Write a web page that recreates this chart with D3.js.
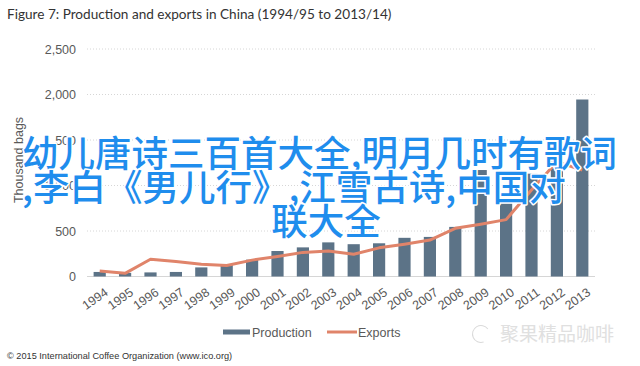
<!DOCTYPE html>
<html>
<head>
<meta charset="utf-8">
<script src="https://cdn.jsdelivr.net/npm/d3@7"></script>
<style>
  body { margin: 0; background: #fff; }
  svg { display: block; }
</style>
</head>
<body>
<div id="chart"></div>
<script>
const width = 640;
const height = 366;

const years = ["1994", "1995", "1996", "1997", "1998", "1999", "2000", "2001", "2002", "2003",
               "2004", "2005", "2006", "2007", "2008", "2009", "2010", "2011", "2012", "2013"];
const production = [50, 40, 45, 50, 100, 135, 185, 280, 320, 375, 355, 365, 425, 435, 545, 1170, 840, 1130, 1530, 1945];
const exportsData = [60, 35, 190, 165, 135, 120, 180, 220, 265, 280, 245, 315, 355, 400, 530, 575, 625, 950, 1260, 1170];
const yTicks = [0, 500, 1000, 1500, 2000, 2500];
const overlayLines = ["幼儿唐诗三百首大全,明月几时有歌词", ",李白《男儿行》,江雪古诗,中国对", "联大全"];

const barColor = "#5c7387";
const lineColor = "#e0846a";
const axisFont = "'Liberation Sans', Arial, sans-serif";

const svg = d3.select("#chart")
  .append("svg")
  .attr("width", width)
  .attr("height", height);

// scales
const x = d3.scaleBand().domain(years).range([87, 595]).paddingInner(0.52).paddingOuter(0.26);
const y = d3.scaleLinear().domain([0, 2500]).range([276.5, 49]);

// title
svg.append("text")
  .attr("x", 7)
  .attr("y", 19)
  .attr("font-family", "Lato, 'Open Sans', sans-serif")
  .attr("font-size", 13.6)
  .attr("fill", "#333")
  .text("Figure 7: Production and exports in China (1994/95 to 2013/14)");

// grid
svg.append("g")
  .selectAll("line")
  .data(yTicks)
  .join("line")
  .attr("x1", 87)
  .attr("x2", 595)
  .attr("y1", d => y(d))
  .attr("y2", d => y(d))
  .attr("stroke", "#d6d6d6")
  .attr("stroke-width", 1)
  .attr("stroke-dasharray", d => d === 0 ? null : "1,2");

// y axis labels
const yAxis = d3.axisLeft(y).tickValues(yTicks).tickSize(0).tickPadding(0).tickFormat(d3.format(","));
svg.append("g")
  .attr("transform", "translate(76,0)")
  .call(yAxis)
  .call(g => g.select(".domain").remove())
  .call(g => g.selectAll("text")
    .attr("font-family", axisFont)
    .attr("font-size", 12.5)
    .attr("fill", "#595959"));

svg.append("text")
  .attr("transform", "translate(23,160) rotate(-90)")
  .attr("text-anchor", "middle")
  .attr("font-family", axisFont)
  .attr("font-size", 12.5)
  .attr("fill", "#595959")
  .text("Thousand bags");

// x axis labels
const xAxis = d3.axisBottom(x).tickSize(0).tickPadding(0);
svg.append("g")
  .attr("transform", "translate(0,287)")
  .call(xAxis)
  .call(g => g.select(".domain").remove())
  .call(g => g.selectAll("text")
    .attr("font-family", axisFont)
    .attr("font-size", 12.5)
    .attr("fill", "#595959")
    .attr("text-anchor", "end")
    .attr("dy", "0.72em")
    .attr("transform", "translate(4,0) rotate(-35)"));

// bars
svg.append("g")
  .selectAll("rect")
  .data(production)
  .join("rect")
  .attr("x", (d, i) => x(years[i]))
  .attr("width", x.bandwidth())
  .attr("y", d => y(d))
  .attr("height", d => y(0) - y(d))
  .attr("fill", barColor);

// exports line
const line = d3.line()
  .x((d, i) => x(years[i]) + x.bandwidth() / 2)
  .y(d => y(d));

svg.append("path")
  .datum(exportsData)
  .attr("d", line)
  .attr("fill", "none")
  .attr("stroke", lineColor)
  .attr("stroke-width", 3)
  .attr("stroke-linejoin", "round");

// legend
const legend = svg.append("g")
  .attr("font-family", axisFont)
  .attr("font-size", 12.5)
  .attr("fill", "#595959");

legend.append("rect")
  .attr("x", 223).attr("y", 329.5)
  .attr("width", 27).attr("height", 5)
  .attr("fill", barColor);
legend.append("text").attr("x", 252).attr("y", 336.5).text("Production");

legend.append("line")
  .attr("x1", 327).attr("x2", 357)
  .attr("y1", 332).attr("y2", 332)
  .attr("stroke", lineColor).attr("stroke-width", 3);
legend.append("text").attr("x", 358).attr("y", 336.5).text("Exports");

// source
svg.append("text")
  .attr("x", 7)
  .attr("y", 359)
  .attr("font-family", axisFont)
  .attr("font-size", 9.2)
  .attr("fill", "#333")
  .text("© 2015 International Coffee Organization (www.ico.org)");

// watermark
const wm = svg.append("g");
wm.append("path")
  .attr("d", d3.arc()({ innerRadius: 8, outerRadius: 9, startAngle: Math.PI * 0.9, endAngle: Math.PI * 2.3 }))
  .attr("transform", "translate(481,334)")
  .attr("fill", "#dadada");
wm.append("text")
  .attr("x", 500)
  .attr("y", 341)
  .attr("font-family", "'Noto Sans CJK SC', sans-serif")
  .attr("font-size", 19)
  .attr("fill", "#e0e0e0")
  .text("聚果精品咖啡");

// overlay text
const overlay = svg.append("g")
  .attr("font-family", "'Noto Sans CJK SC', sans-serif")
  .attr("font-size", 36.5)
  .attr("font-weight", 500)
  .attr("fill", "#1f8ded")
  .attr("stroke", "#fff")
  .attr("stroke-width", 3)
  .attr("paint-order", "stroke")
  .attr("stroke-linejoin", "round");

overlay.append("text").attr("x", 22).attr("y", 167).text(overlayLines[0]);
overlay.append("text").attr("x", 22).attr("y", 201).text(overlayLines[1]);
overlay.append("text").attr("x", 326).attr("y", 235).attr("text-anchor", "middle").text(overlayLines[2]);
</script>
</body>
</html>
